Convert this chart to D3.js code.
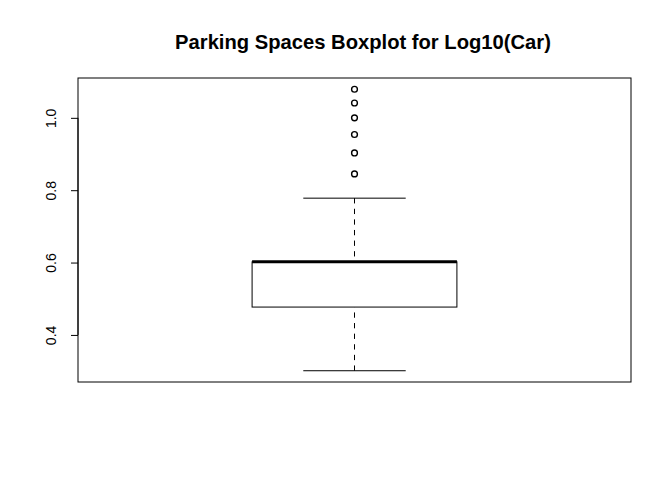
<!DOCTYPE html>
<html><head><meta charset="utf-8">
<script src="https://cdn.jsdelivr.net/npm/d3@7"></script>
<style>body{margin:0;background:#fff}svg{display:block}</style>
</head><body>
<svg id="chart" width="672" height="480"></svg>
<script>
const title = "Parking Spaces Boxplot for Log10(Car)";
const statNames = ["lowerWhisker","q1","median","q3","upperWhisker"];
const statValues = [0.301, 0.477, 0.602, 0.602, 0.778];
const outliers = [0.845, 0.903, 0.954, 1.0, 1.041, 1.079];
const yTicks = [0.4, 0.6, 0.8, 1.0];
const yTickLabels = ["0.4", "0.6", "0.8", "1.0"];

const svg = d3.select("#chart");
const L = 78, R = 631, T = 78, B = 382;
const font = "'Liberation Sans', Arial, Helvetica, sans-serif";

const allVals = statValues.concat(outliers);
const lo = d3.min(allVals), hi = d3.max(allVals), ext = (hi - lo) * 0.04;
const y = d3.scaleLinear().domain([lo - ext, hi + ext]).range([B, T]);
const x = d3.scaleLinear().domain([0.46, 1.54]).range([L, R]);

const s = Object.fromEntries(statNames.map((n, i) => [n, statValues[i]]));

// title
svg.append("text").attr("x", 363).attr("y", 49)
  .attr("text-anchor", "middle").attr("font-family", font)
  .attr("font-weight", "bold").attr("font-size", 20.2).text(title);

// axis
const yAxis = d3.axisLeft(y).tickValues(yTicks)
  .tickFormat((d, i) => yTickLabels[i]).tickSize(7).tickPadding(0);
const ag = svg.append("g").attr("transform", `translate(${L},0)`).call(yAxis);
ag.select(".domain").remove();
ag.selectAll(".tick line").attr("stroke", "#000");
ag.selectAll(".tick text").attr("font-family", font).attr("font-size", 14)
  .attr("fill", "#000").attr("text-anchor", "middle")
  .attr("transform", "rotate(-90)")
  .attr("x", 0).attr("y", -22).attr("dy", 0);
svg.append("line").attr("x1", L).attr("x2", L)
  .attr("y1", y(yTicks[0])).attr("y2", y(yTicks[yTicks.length - 1]))
  .attr("stroke", "#000");

// box frame
svg.append("rect").attr("x", L).attr("y", T).attr("width", R - L).attr("height", B - T)
  .attr("fill", "none").attr("stroke", "#000");

const cx = x(1);
const g = svg.append("g").attr("stroke", "#000").attr("fill", "none");
// whiskers (drawn from whisker end toward the box)
g.append("line").attr("x1", cx).attr("x2", cx).attr("y1", y(s.lowerWhisker)).attr("y2", y(s.q1))
  .attr("stroke-dasharray", "5.3,5.3");
g.append("line").attr("x1", cx).attr("x2", cx).attr("y1", y(s.upperWhisker)).attr("y2", y(s.q3))
  .attr("stroke-dasharray", "5.3,5.3");
// caps
[s.lowerWhisker, s.upperWhisker].forEach(v => {
  g.append("line").attr("x1", x(0.9)).attr("x2", x(1.1)).attr("y1", y(v)).attr("y2", y(v));
});
// box
g.append("rect").attr("x", x(0.8)).attr("width", x(1.2) - x(0.8))
  .attr("y", y(s.q3)).attr("height", y(s.q1) - y(s.q3)).attr("fill", "#fff");
// median
g.append("line").attr("x1", x(0.8)).attr("x2", x(1.2)).attr("y1", y(s.median)).attr("y2", y(s.median))
  .attr("stroke-width", 3);
// outliers
g.selectAll("circle.out").data(outliers).join("circle")
  .attr("cx", cx).attr("cy", d => y(d)).attr("r", 2.9).attr("stroke-width", 1.4);
</script>
</body></html>
